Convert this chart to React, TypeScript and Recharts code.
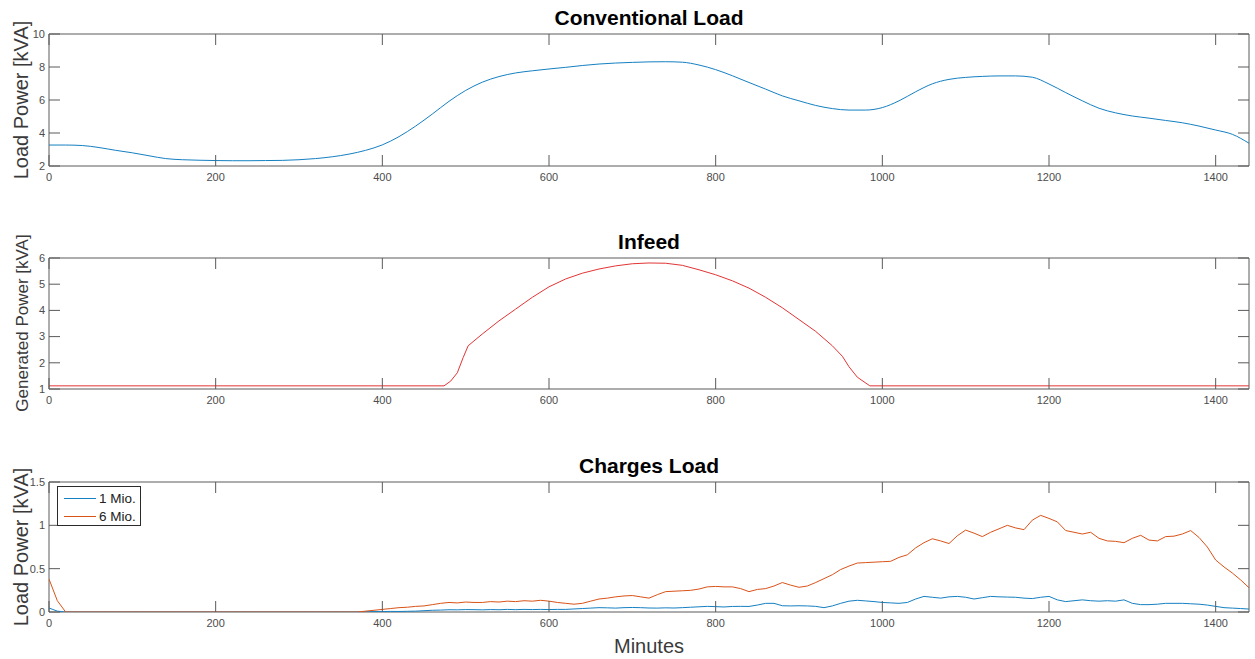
import React from 'react';
import { LineChart, Line, XAxis, YAxis, ReferenceArea, Legend } from 'recharts';

// ---- data ----
const conventionalMinutes = [
  0, 20, 40, 60, 80, 100, 120, 140, 160, 180, 200, 220, 240, 260, 280, 300, 320, 340, 360, 380,
  400, 420, 440, 460, 480, 500, 520, 540, 560, 580, 600, 620, 640, 660, 680, 700, 720, 740, 760, 780,
  800, 820, 840, 860, 880, 900, 920, 940, 960, 980, 1000, 1020, 1040, 1060, 1080, 1100, 1120, 1140, 1160, 1180,
  1200, 1220, 1240, 1260, 1280, 1300, 1320, 1340, 1360, 1380, 1400, 1420, 1440,
];
const conventionalLoad = [
  3.27, 3.27, 3.24, 3.12, 2.95, 2.8, 2.62, 2.45, 2.38, 2.35, 2.33, 2.32, 2.32, 2.33, 2.34, 2.38, 2.45, 2.56, 2.72, 2.95,
  3.28, 3.78, 4.42, 5.15, 5.92, 6.58, 7.08, 7.42, 7.64, 7.77, 7.88, 7.98, 8.09, 8.18, 8.24, 8.28, 8.31, 8.32, 8.29, 8.12,
  7.84, 7.47, 7.06, 6.66, 6.25, 5.95, 5.67, 5.48, 5.39, 5.39, 5.54, 5.95, 6.5, 6.98, 7.25, 7.37, 7.43, 7.46, 7.46, 7.38,
  6.97, 6.45, 5.95, 5.5, 5.22, 5.03, 4.9, 4.76, 4.62, 4.42, 4.18, 3.92, 3.38,
];

const infeedMinutes = [
  0, 474, 482, 490, 497, 503, 520, 540, 560, 580, 600, 620, 640, 660, 680, 700, 720, 740, 760, 780,
  800, 820, 840, 860, 880, 900, 920, 940, 952, 960, 970, 985, 1440,
];
const infeedPower = [
  1.12, 1.12, 1.3, 1.62, 2.2, 2.65, 3.1, 3.6, 4.05, 4.5, 4.9, 5.2, 5.42, 5.58, 5.7, 5.78, 5.81, 5.8, 5.72, 5.55,
  5.36, 5.13, 4.85, 4.5, 4.1, 3.65, 3.2, 2.65, 2.25, 1.85, 1.45, 1.12, 1.12,
];

// charging load sampled every 10 minutes
const chargeMinutes = Array.from({ length: 145 }, (_, i) => i * 10);
const oneMio = [
  0.046, 0.01, 0, 0, 0, 0, 0, 0, 0, 0,
  0, 0, 0, 0, 0, 0, 0, 0, 0, 0,
  0, 0, 0, 0, 0, 0, 0, 0, 0, 0,
  0, 0, 0, 0, 0, 0, 0, 0, 0.003, 0.005,
  0.005, 0.007, 0.006, 0.008, 0.01, 0.015, 0.02, 0.022, 0.026, 0.025,
  0.028, 0.027, 0.025, 0.028, 0.026, 0.03, 0.027, 0.03, 0.028, 0.03,
  0.028, 0.03, 0.03, 0.035, 0.04, 0.045, 0.05, 0.048, 0.045, 0.05,
  0.052, 0.05, 0.046, 0.045, 0.048, 0.046, 0.05, 0.055, 0.06, 0.065,
  0.062, 0.058, 0.064, 0.065, 0.064, 0.08, 0.1, 0.1, 0.072, 0.07,
  0.072, 0.07, 0.065, 0.05, 0.07, 0.1, 0.125, 0.135, 0.128, 0.12,
  0.11, 0.105, 0.1, 0.11, 0.15, 0.18, 0.17, 0.16, 0.175, 0.18,
  0.17, 0.15, 0.165, 0.18, 0.175, 0.172, 0.17, 0.16, 0.155, 0.17,
  0.18, 0.14, 0.12, 0.13, 0.14, 0.13, 0.125, 0.13, 0.125, 0.14,
  0.1, 0.085, 0.085, 0.09, 0.1, 0.1, 0.1, 0.095, 0.09, 0.08,
  0.065, 0.05, 0.045, 0.04, 0.034,
];
const sixMio = [
  0.38, 0.13, 0, 0, 0, 0, 0, 0, 0, 0,
  0, 0, 0, 0, 0, 0, 0, 0, 0, 0,
  0, 0, 0, 0, 0, 0, 0, 0, 0, 0,
  0, 0, 0, 0, 0, 0, 0, 0, 0.01, 0.02,
  0.03, 0.04, 0.05, 0.055, 0.065, 0.07, 0.085, 0.1, 0.11, 0.105,
  0.115, 0.11, 0.11, 0.12, 0.115, 0.125, 0.12, 0.13, 0.125, 0.135,
  0.125, 0.11, 0.1, 0.09, 0.1, 0.125, 0.15, 0.16, 0.175, 0.185,
  0.19, 0.175, 0.16, 0.2, 0.235, 0.24, 0.245, 0.25, 0.265, 0.29,
  0.295, 0.29, 0.29, 0.27, 0.235, 0.26, 0.27, 0.3, 0.34, 0.31,
  0.285, 0.3, 0.34, 0.385, 0.43, 0.49, 0.53, 0.565, 0.57, 0.575,
  0.58, 0.585, 0.63, 0.66, 0.74, 0.8, 0.845, 0.82, 0.79, 0.88,
  0.945, 0.91, 0.87, 0.92, 0.96, 1.0, 0.97, 0.95, 1.06, 1.115,
  1.08, 1.04, 0.94, 0.92, 0.9, 0.92, 0.85, 0.82, 0.815, 0.8,
  0.85, 0.885, 0.83, 0.82, 0.87, 0.875, 0.9, 0.94, 0.86, 0.75,
  0.6, 0.52, 0.45, 0.37, 0.28,
];

const minuteTicks = [0, 200, 400, 600, 800, 1000, 1200, 1400];
const loadTicks = [2, 4, 6, 8, 10];
const infeedTicks = [1, 2, 3, 4, 5, 6];
const chargeTicks = [0, 0.5, 1, 1.5];

const conventionalData = conventionalMinutes.map((m, i) => ({ minute: m, load: conventionalLoad[i] }));
const infeedData = infeedMinutes.map((m, i) => ({ minute: m, power: infeedPower[i] }));
const chargeData = chargeMinutes.map((m, i) => ({ minute: m, one: oneMio[i], six: sixMio[i] }));

// ---- layout ----
const FONT = '"Liberation Sans", Arial, Helvetica, sans-serif';
const AXIS_COLOR = '#5a5a5a';
const TICK_TEXT = '#4d4d4d';
const LABEL_COLOR = '#3a3a3a';
const TICK_LEN = 11;
const WIDTH = 1255;
const Y_AXIS_W = 49;
const RIGHT_PAD = 6;
const PLOT_W = WIDTH - Y_AXIS_W - RIGHT_PAD;
const TOP_PAD = 12;
const X_AXIS_H = 40;

const BLUE = '#1580c2';
const ORANGE = '#d95319';
const RED = '#e23535';

// matlab-style ticks: pointing inwards on both sides of the box
const XTick = (props: any) => {
  const { x, y, payload, plotH } = props;
  return (
    <g>
      <line x1={x} x2={x} y1={y} y2={y - TICK_LEN} stroke={AXIS_COLOR} />
      <line x1={x} x2={x} y1={y - plotH} y2={y - plotH + TICK_LEN} stroke={AXIS_COLOR} />
      <text x={x} y={y + 15} textAnchor="middle" fontSize={11} fontFamily={FONT} fill={TICK_TEXT}>
        {payload.value}
      </text>
    </g>
  );
};

const YTick = (props: any) => {
  const { x, y, payload } = props;
  return (
    <g>
      <line x1={x} x2={x + TICK_LEN} y1={y} y2={y} stroke={AXIS_COLOR} />
      <line x1={x + PLOT_W} x2={x + PLOT_W - TICK_LEN} y1={y} y2={y} stroke={AXIS_COLOR} />
      <text x={x - 4} y={y} dy="0.35em" textAnchor="end" fontSize={11} fontFamily={FONT} fill={TICK_TEXT}>
        {payload.value}
      </text>
    </g>
  );
};

const LegendBox = ({ payload }: any) => (
  <div
    style={{
      border: '1px solid #2b2b2b',
      background: '#fff',
      padding: '2px 4px 0 6px',
      fontFamily: FONT,
      fontSize: 13.5,
      color: '#222',
    }}
  >
    {(payload || []).map((e: any) => (
      <div key={e.value} style={{ display: 'flex', alignItems: 'center', height: 18 }}>
        <svg width={32} height={3}>
          <line x1={0} x2={32} y1={1.5} y2={1.5} stroke={e.color} strokeWidth={1} />
        </svg>
        <span style={{ marginLeft: 3 }}>{e.value}</span>
      </div>
    ))}
  </div>
);

interface PanelProps {
  top: number;
  plotH: number;
  data: any[];
  yDomain: [number, number];
  yTicks: number[];
  children: React.ReactNode;
}

const Panel = ({ top, plotH, data, yDomain, yTicks, children }: PanelProps) => (
  <div style={{ position: 'absolute', left: 0, top: top - TOP_PAD }}>
    <LineChart
      width={WIDTH}
      height={TOP_PAD + plotH + X_AXIS_H}
      data={data}
      margin={{ top: TOP_PAD, right: RIGHT_PAD, left: 0, bottom: 0 }}
    >
      <XAxis
        dataKey="minute"
        type="number"
        domain={[0, 1440]}
        ticks={minuteTicks}
        interval={0}
        height={X_AXIS_H}
        axisLine={false}
        tickLine={false}
        tickSize={0}
        tickMargin={0}
        tick={<XTick plotH={plotH} />}
        allowDataOverflow
      />
      <YAxis
        type="number"
        domain={yDomain}
        ticks={yTicks}
        interval={0}
        width={Y_AXIS_W}
        axisLine={false}
        tickLine={false}
        tickSize={0}
        tickMargin={0}
        tick={<YTick />}
        allowDataOverflow
      />
      <ReferenceArea
        x1={0}
        x2={1440}
        y1={yDomain[0]}
        y2={yDomain[1]}
        fill="none"
        fillOpacity={0}
        stroke={AXIS_COLOR}
        strokeOpacity={1}
        ifOverflow="visible"
      />
      {children}
    </LineChart>
  </div>
);

const PLOT_CX = Y_AXIS_W + PLOT_W / 2;

export default function App() {
  return (
    <div
      style={{
        position: 'absolute',
        left: 0,
        top: 0,
        width: WIDTH,
        height: 659,
        background: '#fff',
        fontFamily: FONT,
      }}
    >
      <svg width={WIDTH} height={659} style={{ position: 'absolute', left: 0, top: 0 }}>
        <g fontFamily={FONT} textAnchor="middle">
          <text x={PLOT_CX} y={25} fontSize={21} fontWeight="bold" fill="#000">Conventional Load</text>
          <text x={PLOT_CX} y={249} fontSize={21} fontWeight="bold" fill="#000">Infeed</text>
          <text x={PLOT_CX} y={473} fontSize={21} fontWeight="bold" fill="#000">Charges Load</text>
          <text x={PLOT_CX} y={653} fontSize={20} fill={LABEL_COLOR}>Minutes</text>
          <text transform="translate(28,100) rotate(-90)" fontSize={20} fill={LABEL_COLOR}>Load Power [kVA]</text>
          <text transform="translate(28,323) rotate(-90)" fontSize={17} fill={LABEL_COLOR}>Generated Power [kVA]</text>
          <text transform="translate(28,547) rotate(-90)" fontSize={20} fill={LABEL_COLOR}>Load Power [kVA]</text>
        </g>
      </svg>

      <Panel top={34} plotH={132} data={conventionalData} yDomain={[2, 10]} yTicks={loadTicks}>
        <Line type="monotone" dataKey="load" stroke={BLUE} strokeWidth={1} dot={false} isAnimationActive={false} />
      </Panel>

      <Panel top={258} plotH={131} data={infeedData} yDomain={[1, 6]} yTicks={infeedTicks}>
        <Line type="linear" dataKey="power" stroke={RED} strokeWidth={1} dot={false} isAnimationActive={false} />
      </Panel>

      <Panel top={482} plotH={130} data={chargeData} yDomain={[0, 1.5]} yTicks={chargeTicks}>
        <Line type="linear" dataKey="one" name="1 Mio." stroke={BLUE} strokeWidth={1} dot={false} isAnimationActive={false} />
        <Line type="linear" dataKey="six" name="6 Mio." stroke={ORANGE} strokeWidth={1} dot={false} isAnimationActive={false} />
        <Legend
          layout="vertical"
          align="center"
          verticalAlign="middle"
          content={<LegendBox />}
          wrapperStyle={{ left: 57, top: 16, width: 'auto', height: 'auto' }}
        />
      </Panel>
    </div>
  );
}
